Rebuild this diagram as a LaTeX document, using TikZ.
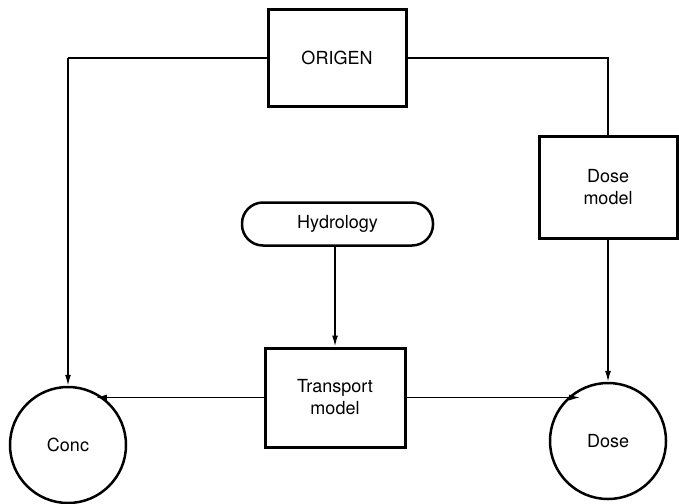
\documentclass[tikz,border=0pt]{standalone}
\usepackage{fontspec}
\setmainfont{TeX Gyre Heros}
\usetikzlibrary{arrows.meta}
\begin{document}
\begin{tikzpicture}[x=1pt,y=-1pt,
  box/.style={draw,line width=3pt,rectangle,inner sep=0pt,align=center,font=\fontsize{18}{22}\selectfont},
  roundbox/.style={box,rounded corners=21pt,line width=2.5pt},
  circ/.style={draw,circle,line width=2.5pt,inner sep=0pt,minimum size=116pt,font=\fontsize{18}{22}\selectfont},
  conn/.style={line width=1.4pt},
  arr/.style={conn,-{Latex[length=11pt,width=6pt]}}]
\useasboundingbox (0,0) rectangle (679,503);
\node[box,minimum width=138pt,minimum height=96pt] (origen) at (337,58) {ORIGEN};
\node[roundbox,minimum width=191pt,minimum height=43pt] (hydro) at (337.5,224) {Hydrology};
\node[box,minimum width=140pt,minimum height=99pt] (tr) at (335,397.5) {Transport\\model};
\node[box,minimum width=138pt,minimum height=102pt] (dm) at (608,187) {Dose\\model};
\node[circ] (conc) at (68,445) {Conc};
\node[circ] (dose) at (608,441) {Dose};
\coordinate (c1) at (conc.north |- origen.west);
\coordinate (c2) at (dm.north |- origen.east);
\draw[conn] (origen.west) -- (c1);
\draw[arr] (c1) -- (conc.north);
\draw[conn] (origen.east) -- (c2) -- (dm.north);
\draw[arr] (dm.south) -- (dose.north);
\draw[arr] (hydro.south -| tr.north) -- (tr.north);
\draw[arr] (tr.west) -- (tr.west -| conc.62);
\draw[arr] (tr.east) -- (tr.east -| dose.118);
\end{tikzpicture}
\end{document}
